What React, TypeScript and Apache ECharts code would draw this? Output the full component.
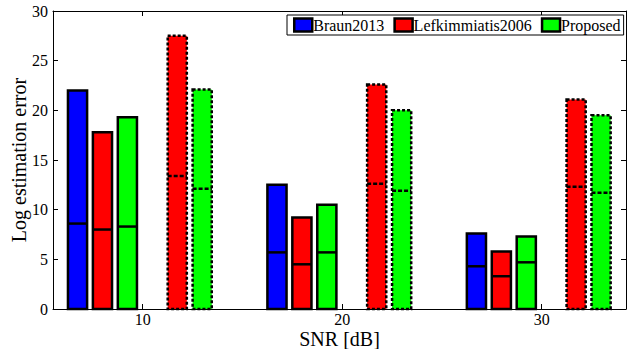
import React, { useEffect, useRef } from "react";
import * as echarts from "echarts";

const snr = [10, 20, 30];
const xTicks = [10, 20, 30];
const braunTop = [22.0, 12.5, 7.6];
const braunMid = [8.6, 5.7, 4.3];
const lefkTop = [17.8, 9.2, 5.8];
const lefkMid = [8.0, 4.5, 3.3];
const propTop = [19.3, 10.5, 7.3];
const propMid = [8.3, 5.7, 4.7];
const lefkTopB = [27.5, 22.6, 21.1];
const lefkMidB = [13.4, 12.6, 12.3];
const propTopB = [22.1, 20.0, 19.5];
const propMidB = [12.1, 11.9, 11.7];

const FONT = "'Liberation Serif', 'Times New Roman', serif";
const SLOT = 1.25;
const SHIFT = 0.145;
const BARW = 0.96;

function makeSeries(name: string, tops: number[], mids: number[], color: string, slot: number, dotted: boolean) {
  return {
    type: "custom",
    name,
    itemStyle: { color },
    data: snr.map((x, i) => [x, tops[i], mids[i]]),
    encode: { x: 0, y: [1, 2] },
    renderItem: (_params: any, api: any) => {
      const xc = api.value(0) + (slot - 2.5) * SLOT - SHIFT;
      const p0 = api.coord([xc - BARW / 2, 0]);
      const p1 = api.coord([xc + BARW / 2, api.value(1)]);
      const pm = api.coord([xc, api.value(2)]);
      return {
        type: "group",
        children: [
          {
            type: "rect",
            shape: { x: p0[0], y: p1[1], width: p1[0] - p0[0], height: p0[1] - p1[1] },
            style: { fill: color, stroke: "#000", lineWidth: 2.5, lineDash: dotted ? [3, 2] : null },
          },
          {
            type: "line",
            shape: { x1: p0[0], y1: pm[1], x2: p1[0], y2: pm[1] },
            style: { stroke: "#000", lineWidth: 2.5, lineDash: dotted ? [4, 2] : null },
          },
        ],
      };
    },
  };
}

export default function App() {
  const ref = useRef<HTMLDivElement>(null);
  useEffect(() => {
    if (!ref.current) return;
    document.body.style.margin = "0";
    const chart = echarts.init(ref.current, null, { renderer: "svg" });
    const legendItem = (name: string, color: string) => ({
      name,
      icon: "rect",
      itemStyle: { color, borderColor: "#000", borderWidth: 2.5 },
    });
    chart.setOption({
      animation: false,
      backgroundColor: "#fff",
      textStyle: { fontFamily: FONT, color: "#000" },
      grid: { left: 53, right: 8, top: 11, bottom: 40, containLabel: false, outerBoundsMode: "none" },
      legend: {
        left: 287,
        top: 15,
        orient: "horizontal",
        itemWidth: 18,
        itemHeight: 13,
        itemGap: 9,
        padding: [2, 3, 2, 6],
        borderColor: "#000",
        borderWidth: 1,
        backgroundColor: "#fff",
        selectedMode: false,
        textStyle: { fontFamily: FONT, fontSize: 16, color: "#000", padding: [0, 0, 0, -4] },
        data: [
          legendItem("Braun2013", "#0000ff"),
          legendItem("Lefkimmiatis2006", "#ff0000"),
          legendItem("Proposed", "#00ff00"),
        ],
      },
      xAxis: [
        {
          type: "value",
          min: 5.5,
          max: 34.23,
          name: "SNR [dB]",
          nameLocation: "middle",
          nameGap: 20,
          nameMoveOverlap: false,
          nameTextStyle: { fontFamily: FONT, fontSize: 20, color: "#000", verticalAlign: "top" },
          axisLine: { show: true, onZero: false, lineStyle: { color: "#000", width: 1 } },
          axisTick: { show: true, inside: true, length: 5, customValues: xTicks, lineStyle: { color: "#000" } },
          axisLabel: { customValues: xTicks, fontFamily: FONT, fontSize: 16, color: "#000", margin: 2 },
          splitLine: { show: false },
        },
        {
          type: "value",
          position: "top",
          min: 5.5,
          max: 34.23,
          axisLine: { show: true, onZero: false, lineStyle: { color: "#000", width: 1 } },
          axisTick: { show: true, inside: true, length: 5, customValues: xTicks, lineStyle: { color: "#000" } },
          axisLabel: { show: false },
          splitLine: { show: false },
        },
      ],
      yAxis: [
        {
          type: "value",
          min: 0,
          max: 30,
          interval: 5,
          name: "Log estimation error",
          nameLocation: "middle",
          nameGap: 24,
          nameMoveOverlap: false,
          nameTextStyle: { fontFamily: FONT, fontSize: 20, color: "#000" },
          axisLine: { show: true, onZero: false, lineStyle: { color: "#000", width: 1 } },
          axisTick: { show: true, inside: true, length: 5, lineStyle: { color: "#000" } },
          axisLabel: { fontFamily: FONT, fontSize: 16, color: "#000", margin: 5 },
          splitLine: { show: false },
        },
        {
          type: "value",
          position: "right",
          min: 0,
          max: 30,
          interval: 5,
          axisLine: { show: true, onZero: false, lineStyle: { color: "#000", width: 1 } },
          axisTick: { show: true, inside: true, length: 5, lineStyle: { color: "#000" } },
          axisLabel: { show: false },
          splitLine: { show: false },
        },
      ],
      series: [
        makeSeries("Braun2013", braunTop, braunMid, "#0000ff", 0, false),
        makeSeries("Lefkimmiatis2006", lefkTop, lefkMid, "#ff0000", 1, false),
        makeSeries("Proposed", propTop, propMid, "#00ff00", 2, false),
        makeSeries("Lefkimmiatis2006 (dotted)", lefkTopB, lefkMidB, "#ff0000", 4, true),
        makeSeries("Proposed (dotted)", propTopB, propMidB, "#00ff00", 5, true),
      ],
    });
    return () => chart.dispose();
  }, []);
  return <div ref={ref} style={{ width: 634, height: 349 }} />;
}
